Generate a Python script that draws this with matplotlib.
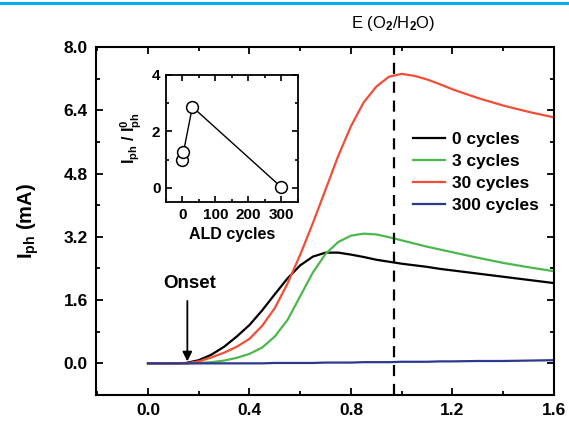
import matplotlib
matplotlib.use("Agg")
import matplotlib.pyplot as plt
from matplotlib.patches import Rectangle
from matplotlib.ticker import MultipleLocator
from matplotlib.font_manager import FontProperties

plt.rcParams['font.family'] = ['Liberation Sans', 'DejaVu Sans']
plt.rcParams['font.weight'] = 'bold'
plt.rcParams['mathtext.fontset'] = 'custom'
plt.rcParams['mathtext.rm'] = 'Liberation Sans:bold'
plt.rcParams['mathtext.bf'] = 'Liberation Sans:bold'
plt.rcParams['mathtext.it'] = 'Liberation Sans:bold:italic'
plt.rcParams['mathtext.sf'] = 'Liberation Sans'

# potencial (V) y fotocorriente (mA)
potencial = [0.0, 0.1, 0.15, 0.2, 0.25, 0.3, 0.35, 0.4, 0.45, 0.5, 0.55, 0.6, 0.65,
             0.7, 0.75, 0.8, 0.85, 0.9, 0.95, 1.0, 1.05, 1.1, 1.15, 1.2, 1.3, 1.4,
             1.5, 1.6]
i_0 = [0.0, 0.0, 0.01, 0.08, 0.22, 0.42, 0.68, 0.97, 1.34, 1.75, 2.15, 2.48, 2.7,
       2.8, 2.8, 2.75, 2.69, 2.62, 2.57, 2.52, 2.48, 2.44, 2.39, 2.35, 2.27, 2.19,
       2.11, 2.03]
i_3 = [0.0, 0.0, 0.0, 0.01, 0.03, 0.07, 0.14, 0.24, 0.4, 0.68, 1.1, 1.7, 2.3,
       2.77, 3.07, 3.23, 3.28, 3.26, 3.19, 3.11, 3.03, 2.95, 2.88, 2.81, 2.67, 2.54,
       2.43, 2.33]
i_30 = [0.0, 0.0, 0.0, 0.05, 0.15, 0.27, 0.42, 0.62, 0.95, 1.4, 2.02, 2.75, 3.55,
        4.4, 5.25, 6.0, 6.6, 7.0, 7.25, 7.32, 7.27, 7.18, 7.06, 6.93, 6.71, 6.52,
        6.36, 6.22]
i_300 = [0.0, 0.0, 0.0, 0.0, 0.0, 0.0, 0.0, 0.0, 0.0, 0.01, 0.01, 0.01, 0.01,
         0.02, 0.02, 0.02, 0.03, 0.03, 0.03, 0.04, 0.04, 0.04, 0.05, 0.05, 0.06, 0.06,
         0.07, 0.08]

series = [("0 cycles", i_0, "black"),
          ("3 cycles", i_3, "#4cb84c"),
          ("30 cycles", i_30, "#f04e37"),
          ("300 cycles", i_300, "#2b3990")]

# inset: ratio I_ph / I0_ph frente a ciclos ALD
ciclos = [0, 3, 30, 300]
ratio = [1.0, 1.27, 2.87, 0.02]

x_ticks = [0.0, 0.4, 0.8, 1.2, 1.6]
y_ticks = [0.0, 1.6, 3.2, 4.8, 6.4, 8.0]
ins_x_ticks = [0, 100, 200, 300]
ins_y_ticks = [0, 2, 4]

fuente_ticks = FontProperties(family="Liberation Sans", weight="bold", size=12.5)
fuente_ins = FontProperties(family="Liberation Sans", weight="bold", size=11)

fig = plt.figure(figsize=(5.69, 4.22), dpi=100)

# franja azul de la cabecera
fig.add_artist(Rectangle((0, 0.988), 1, 0.008, transform=fig.transFigure,
                         color="#00aeef", lw=0))

ax = fig.add_axes([0.1687, 0.064, 0.8049, 0.8246])
for nombre, valores, color in series:
    ax.plot(potencial, valores, color=color, lw=1.6, label=nombre,
            solid_joinstyle="round")

ax.axvline(0.968, color="black", lw=1.6, dashes=(5, 3.5))
ax.text(0.968, 8.6, "E (O$_\\mathsf{2}$/H$_\\mathsf{2}$O)", ha="center",
        va="center", fontsize=12, fontweight="normal")

ax.annotate("", xy=(0.155, -0.02), xytext=(0.155, 1.65),
            arrowprops=dict(arrowstyle="-|>", color="black", lw=1.3,
                            mutation_scale=14))
ax.text(0.165, 2.02, "Onset", ha="center", va="center", fontsize=13.5,
        fontweight="bold")

ax.set_xlim(-0.205, 1.6)
ax.set_ylim(-0.8, 8.0)
ax.xaxis.set_minor_locator(MultipleLocator(0.2))
ax.yaxis.set_minor_locator(MultipleLocator(0.8))
ax.set_xticks(x_ticks)
ax.set_xticklabels([f"{v:.1f}" for v in x_ticks], fontproperties=fuente_ticks)
ax.set_yticks(y_ticks)
ax.set_yticklabels([f"{v:.1f}" for v in y_ticks], fontproperties=fuente_ticks)
ax.tick_params(which="both", direction="in", top=True, right=True, width=1.3,
               pad=6)
ax.tick_params(which="major", length=5)
ax.tick_params(which="minor", length=3)
for s in ax.spines.values():
    s.set_linewidth(1.5)
ax.set_ylabel("I$_\\mathrm{ph}$ (mA)", fontsize=14.5, fontweight="bold", labelpad=16)

leg = ax.legend(loc="upper left", bbox_to_anchor=(0.677, 0.776), frameon=False,
                prop={"size": 12.5, "weight": "bold"}, handlelength=1.85,
                handletextpad=0.4, labelspacing=0.4, borderaxespad=0)
for linea in leg.get_lines():
    linea.set_linewidth(1.6)

ins = fig.add_axes([0.2917, 0.5213, 0.232, 0.301])
ins.plot(ciclos[1:], ratio[1:], color="black", lw=1.0, zorder=1)
ins.plot(ciclos, ratio, "o", mfc="white", mec="black", ms=8.5, mew=1.1, zorder=2)
ins.set_xlim(-50, 350)
ins.set_ylim(-0.5, 4)
ins.set_xticks(ins_x_ticks)
ins.set_xticklabels([str(v) for v in ins_x_ticks], fontproperties=fuente_ins)
ins.xaxis.set_minor_locator(MultipleLocator(50))
ins.set_yticks(ins_y_ticks)
ins.set_yticklabels([str(v) for v in ins_y_ticks], fontproperties=fuente_ins)
ins.yaxis.set_minor_locator(MultipleLocator(1))
ins.tick_params(which="both", direction="in", top=True, right=True, width=1.2,
                pad=4)
ins.tick_params(which="major", length=4)
ins.tick_params(which="minor", length=2.5)
for s in ins.spines.values():
    s.set_linewidth(1.3)
ins.set_xlabel("ALD cycles", fontsize=11.5, fontweight="bold", labelpad=4)
ins.set_ylabel("I$_\\mathrm{ph}$ / I$^\\mathrm{0}_\\mathrm{ph}$",
               fontsize=11.5, fontweight="bold")
ins.yaxis.set_label_coords(-0.17, 0.5)

fig.savefig("out.png", dpi=100)
